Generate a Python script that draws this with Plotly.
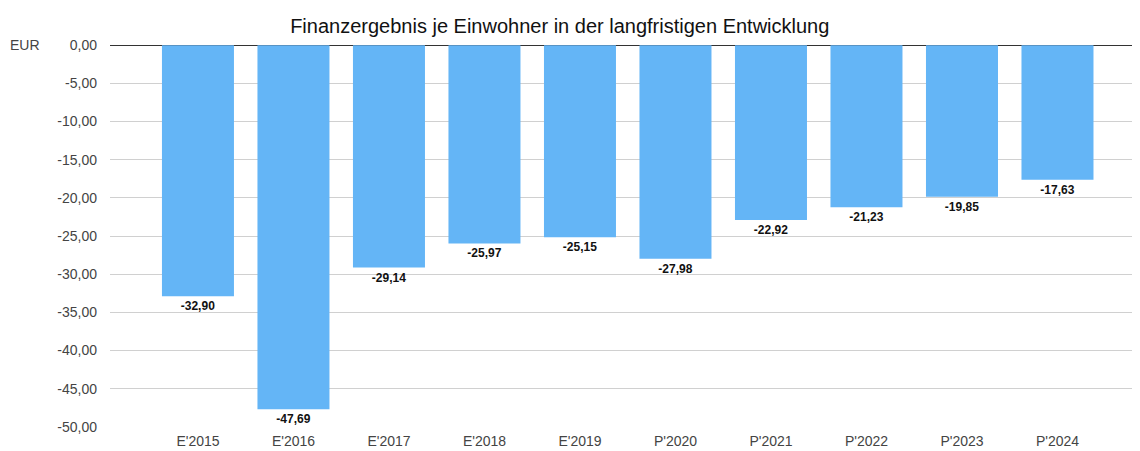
import plotly.graph_objects as go

# Finanzergebnis je Einwohner (EUR)
jahre = ["E'2015", "E'2016", "E'2017", "E'2018", "E'2019",
         "P'2020", "P'2021", "P'2022", "P'2023", "P'2024"]
werte = [-32.90, -47.69, -29.14, -25.97, -25.15,
         -27.98, -22.92, -21.23, -19.85, -17.63]
y_ticks = [0, -5, -10, -15, -20, -25, -30, -35, -40, -45, -50]


def de(v):
    # deutsches Zahlenformat mit normalem Bindestrich
    return f"{v:.2f}".replace(".", ",")


fig = go.Figure(go.Bar(
    x=jahre, y=werte,
    marker=dict(color="#64B5F6", line=dict(width=0)),
    text=[de(v) for v in werte],
    textposition="outside",
    textfont=dict(size=12, color="#111", family="Liberation Sans", weight="bold"),
    cliponaxis=False,
))

fig.update_layout(
    width=1140, height=451,
    margin=dict(l=102, r=8, t=37, b=32),
    plot_bgcolor="white", paper_bgcolor="white",
    font=dict(family="Liberation Sans", size=14, color="#444"),
    title=dict(text="Finanzergebnis je Einwohner in der langfristigen Entwicklung",
               x=0.484, xanchor="center", y=0.96, yanchor="middle",
               font=dict(size=20, color="#111")),
    bargap=0.246,
    showlegend=False,
)
fig.update_xaxes(range=[-0.921, 9.864], showgrid=False, ticks="",
                 ticklabelstandoff=4,
                 tickfont=dict(size=14, color="#444"))
fig.update_yaxes(range=[-50.02, 0.02], tickvals=y_ticks,
                 ticktext=[de(v) for v in y_ticks],
                 gridcolor="#d0d0d0", gridwidth=1,
                 zeroline=True, zerolinecolor="#333", zerolinewidth=1,
                 ticks="", ticklabelstandoff=12,
                 tickfont=dict(size=14, color="#444"))

fig.add_annotation(text="EUR", xref="paper", yref="paper",
                   x=-0.0825, y=1.0, xanchor="center", yanchor="middle",
                   showarrow=False, font=dict(size=14, color="#444"))

fig.write_html("out.html")
